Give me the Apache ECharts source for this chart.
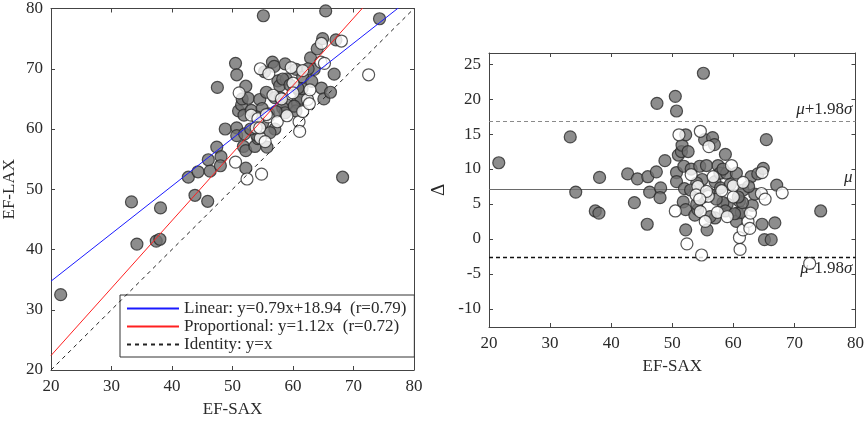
<!DOCTYPE html>
<html>
<head>
<meta charset="utf-8">
<script src="https://cdn.jsdelivr.net/npm/echarts@6/dist/echarts.min.js"></script>
<style>
html,body{margin:0;padding:0;background:#fff;}
#chart{width:867px;height:423px;}
</style>
</head>
<body>
<div id="chart"></div>
<script>
// ---- data ----
const graySAX = [21.6,33.3,34.2,37.4,38.0,38.1,42.7,43.8,44.3,45.9,46.0,46.3,47.4,47.5,48.1,48.0,48.8,50.5,50.7,50.7,50.7,51.0,51.5,51.6,52.2,51.8,52.2,52.2,52.6,51.9,53.1,52.0,53.7,54.2,54.5,54.9,55.1,55.3,55.6,55.7,56.6,56.9,57.0,57.0,57.5,57.8,58.7,58.9,59.0,60.5,60.7,60.5,61.0,61.3,61.6,62.9,63.1,63.5,64.0,64.7,64.9,65.4,65.1,66.2,66.8,67.1,74.3,68.2,54.0,56.2,58.3,58.7,60.2,61.5,57.9,58.3,54.0,53.0,56.0,59.5,62.5,60.8,55.0,57.2];
const grayLAX = [32.5,47.9,40.9,41.4,41.7,46.9,52.0,49.0,52.9,48.0,54.9,53.0,57.0,66.9,55.4,53.9,60.0,70.9,69.0,60.2,58.9,63.0,64.0,65.0,67.1,57.1,56.4,53.5,65.1,62.3,63.1,59.2,57.1,58.4,64.9,63.4,78.8,69.5,66.1,57.0,71.1,70.4,65.2,60.0,68.0,67.2,70.8,68.3,64.0,69.9,64.4,63.0,66.4,65.1,68.6,71.8,67.9,69.9,73.3,66.8,75.0,79.6,65.0,66.1,69.1,74.8,78.3,52.0,62.0,59.4,63.5,62.7,63.8,66.7,65.2,68.3,59.0,60.0,62.5,67.3,70.0,66.8,61.0,62.9];
const whiteSAX = [51.1,50.5,52.4,53.1,54.6,54.6,54.8,55.4,56.0,55.9,56.7,57.4,58.1,59.0,59.7,60.0,60.0,61.0,61.1,61.6,62.4,62.8,62.7,61.6,64.7,64.6,65.2,68.0,72.5,54.2,53.9,55.6,54.5];
const whiteLAX = [66.0,54.5,51.7,62.3,70.0,58.5,52.5,57.9,69.2,62.0,65.6,61.2,65.0,62.2,70.2,67.6,66.0,61.2,59.6,62.9,64.9,66.5,64.2,69.7,74.2,71.1,70.9,74.6,69.0,61.7,60.2,62.4,60.2];

const linearFit = {slope: 0.79, intercept: 18.94};
const propFit = {slope: 1.12};
const xRange = [20, 80];
const deltaTicks = [-10,-5,0,5,10,15,20,25];
const meanDiff = 7.1;
const upperLoA = 16.8;
const lowerLoA = -2.6;

const legendNames = ['Linear: y=0.79x+18.94  (r=0.79)', 'Proportional: y=1.12x  (r=0.72)', 'Identity: y=x'];

// ---- build ----
const pairs = (xs, ys) => xs.map((x, i) => [x, ys[i]]);
const diffs = (xs, ys) => xs.map((x, i) => [x, +(ys[i] - x).toFixed(2)]);

const FONT = '"Liberation Serif", "Times New Roman", serif';
const TXT = '#2a2a2a';
const AX = '#444';

function mkAxis(extra) {
  return Object.assign({
    axisLine: {show: true, onZero: false, lineStyle: {color: AX, width: 1}},
    axisTick: {show: true, inside: true, length: 4, lineStyle: {color: AX}},
    axisLabel: {color: TXT, fontFamily: FONT, fontSize: 17, margin: 8},
    splitLine: {show: false},
    nameTextStyle: {color: TXT, fontFamily: FONT, fontSize: 17}
  }, extra);
}
const noLabel = {show: false};

const chart = echarts.init(document.getElementById('chart'), null, {renderer: 'canvas'});

const markerGray = {color: '#707070', borderColor: '#2a2a2a', borderWidth: 1.2};
const markerWhite = {color: '#ffffff', borderColor: '#2a2a2a', borderWidth: 1.2};
const SYM = 12;

const lineLab = (txt, pos) => ({
  show: true, position: pos, formatter: txt, distance: 3,
  color: TXT, fontFamily: FONT, fontSize: 17,
  rich: {i: {fontStyle: 'italic', fontFamily: FONT, fontSize: 17, color: TXT}}
});

chart.setOption({
  animation: false,
  backgroundColor: '#fff',
  grid: [
    {left: 48, top: 7, width: 366, height: 366, show: false},
    {left: 489, top: 53, width: 367, height: 274, show: false}
  ],
  xAxis: [
    mkAxis({gridIndex: 0, type: 'value', min: xRange[0], max: xRange[1], interval: 10, position: 'bottom',
      name: 'EF-SAX', nameLocation: 'middle', nameGap: 31}),
    mkAxis({gridIndex: 0, type: 'value', min: xRange[0], max: xRange[1], interval: 10, position: 'top', axisLabel: noLabel}),
    mkAxis({gridIndex: 1, type: 'value', min: xRange[0], max: xRange[1], interval: 10, position: 'bottom',
      name: 'EF-SAX', nameLocation: 'middle', nameGap: 31}),
    mkAxis({gridIndex: 1, type: 'value', min: xRange[0], max: xRange[1], interval: 10, position: 'top', axisLabel: noLabel})
  ],
  yAxis: [
    mkAxis({gridIndex: 0, type: 'value', min: 20, max: 80, interval: 10, position: 'left',
      name: 'EF-LAX', nameLocation: 'middle', nameGap: 33}),
    mkAxis({gridIndex: 0, type: 'value', min: 20, max: 80, interval: 10, position: 'right', axisLabel: noLabel}),
    mkAxis({gridIndex: 1, type: 'value', min: -12.6, max: 26.6, position: 'left',
      axisLabel: {color: TXT, fontFamily: FONT, fontSize: 17, margin: 8, customValues: deltaTicks},
      axisTick: {show: true, inside: true, length: 4, lineStyle: {color: AX}, customValues: deltaTicks},
      name: 'Δ', nameLocation: 'middle', nameGap: 40, nameTextStyle: {color: TXT, fontFamily: FONT, fontSize: 19}}),
    mkAxis({gridIndex: 1, type: 'value', min: -12.6, max: 26.6, position: 'right',
      axisLabel: {show: false, customValues: deltaTicks},
      axisTick: {show: true, inside: true, length: 4, lineStyle: {color: AX}, customValues: deltaTicks}})
  ],
  legend: {
    data: legendNames,
    orient: 'vertical',
    left: 120, top: 295,
    padding: [5, 8, 4, 6],
    itemGap: 1,
    itemWidth: 52, itemHeight: 14,
    itemStyle: {opacity: 0},
    borderColor: '#333', borderWidth: 1, borderRadius: 0,
    backgroundColor: '#fff',
    textStyle: {color: TXT, fontFamily: FONT, fontSize: 17},
    selectedMode: false
  },
  series: [
    {type: 'scatter', xAxisIndex: 0, yAxisIndex: 0, symbolSize: SYM, itemStyle: markerGray, data: pairs(graySAX, grayLAX), z: 3, clip: true},
    {type: 'scatter', xAxisIndex: 0, yAxisIndex: 0, symbolSize: SYM, itemStyle: markerWhite, data: pairs(whiteSAX, whiteLAX), z: 3, clip: true},
    {name: legendNames[0], type: 'line', xAxisIndex: 0, yAxisIndex: 0, symbol: 'none', clip: true, z: 4,
      lineStyle: {color: '#1a1aff', width: 1}, itemStyle: {color: '#1a1aff'},
      data: xRange.map(x => [x, linearFit.slope * x + linearFit.intercept])},
    {name: legendNames[1], type: 'line', xAxisIndex: 0, yAxisIndex: 0, symbol: 'none', clip: true, z: 4,
      lineStyle: {color: '#ff2020', width: 1}, itemStyle: {color: '#ff2020'},
      data: xRange.map(x => [x, propFit.slope * x])},
    {name: legendNames[2], type: 'line', xAxisIndex: 0, yAxisIndex: 0, symbol: 'none', clip: true, z: 4,
      lineStyle: {color: '#222', width: 1, type: [4, 4]}, itemStyle: {color: '#222'},
      data: xRange.map(x => [x, x])},
    {type: 'scatter', xAxisIndex: 2, yAxisIndex: 2, symbolSize: SYM, itemStyle: markerGray, data: diffs(graySAX, grayLAX), z: 3, clip: true},
    {type: 'scatter', xAxisIndex: 2, yAxisIndex: 2, symbolSize: SYM, itemStyle: markerWhite, data: diffs(whiteSAX, whiteLAX), z: 3, clip: true,
      markLine: {
        silent: true, symbol: 'none', z: 2,
        data: [
          {yAxis: upperLoA, lineStyle: {color: '#8a8a8a', width: 1, type: [4, 3]}, label: lineLab('{i|μ}+1.98{i|σ}', 'insideEndTop')},
          {yAxis: meanDiff, lineStyle: {color: '#6a6a6a', width: 1, type: 'solid'}, label: lineLab('{i|μ}', 'insideEndTop')},
          {yAxis: lowerLoA, lineStyle: {color: '#111', width: 1.3, type: [4, 3]}, label: lineLab('{i|μ}-1.98{i|σ}', 'insideEndBottom')}
        ]
      }}
  ]
});
</script>
</body>
</html>
